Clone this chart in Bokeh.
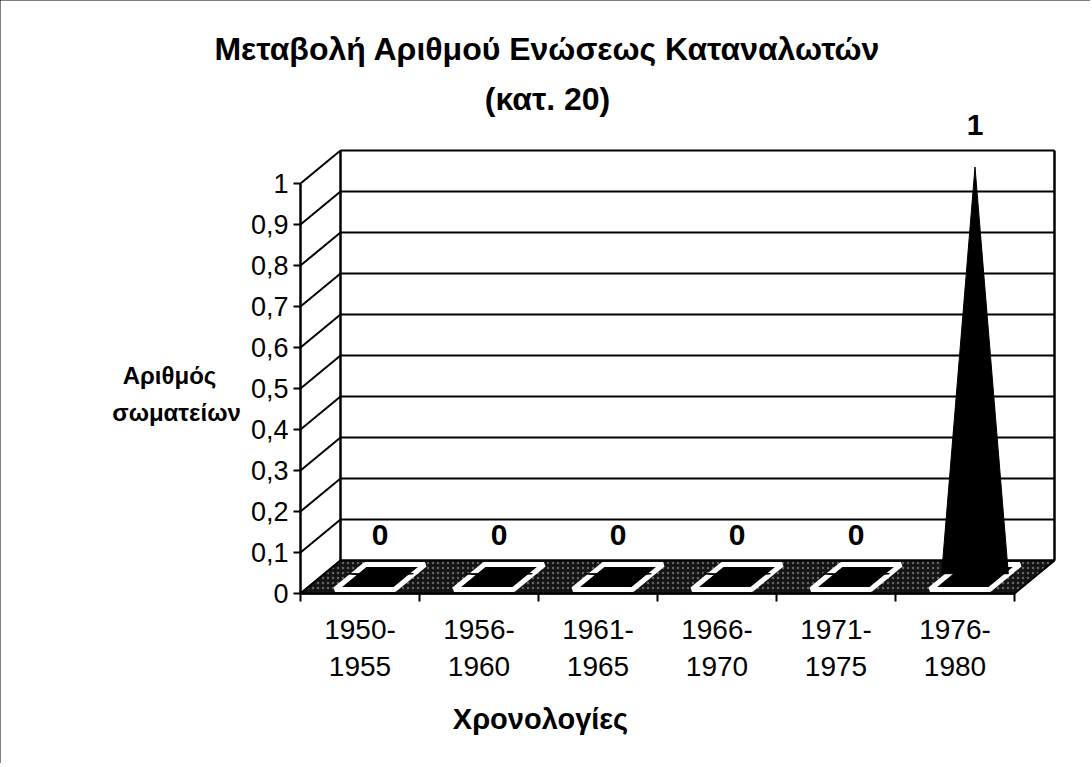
from bokeh.plotting import figure
from bokeh.models import FixedTicker, CustomJSTickFormatter, Label, Range1d
from bokeh.embed import file_html
from bokeh.resources import INLINE
from bokeh.core.properties import value

# ---- data ----
categories = ["1950-\n1955", "1956-\n1960", "1961-\n1965", "1966-\n1970", "1971-\n1975", "1976-\n1980"]
counts = [0, 0, 0, 0, 0, 1]
y_ticks = [0.0, 0.1, 0.2, 0.3, 0.4, 0.5, 0.6, 0.7, 0.8, 0.9, 1.0]
title_lines = ["Μεταβολή Αριθμού Ενώσεως Καταναλωτών", "(κατ. 20)"]
y_title_lines = ["Αριθμός", "σωματείων"]
x_title = "Χρονολογίες"

# ---- layout (frame covers the whole canvas; axes are fixed inside it) ----
W, H = 1090, 763
X0_PX, Y0_PX = 300, 593   # screen position of the chart origin (front-left, value 0)
PX_X = 119.0              # pixels per category
PX_Y = 410.0              # pixels per unit of value
DX = 40 / PX_X            # 3D depth offset (x)
DY = 33 / PX_Y            # 3D depth offset (y)
n = len(categories)
FONT = "Liberation Sans"

p = figure(width=W, height=H, output_backend="svg", toolbar_location=None,
           x_range=Range1d(-X0_PX / PX_X, (W - X0_PX) / PX_X),
           y_range=Range1d(-(H - Y0_PX) / PX_Y, Y0_PX / PX_Y),
           min_border=0, min_border_left=0, min_border_right=0,
           min_border_top=0, min_border_bottom=0)
p.title.visible = False
p.outline_line_color = None
p.xgrid.visible = False
p.ygrid.visible = False
p.background_fill_color = "white"
p.border_fill_color = "white"
p.styles = {"outline": "3px solid black", "outline-offset": "-3px"}


def sx(px):  # screen px -> data x (text placement only)
    return (px - X0_PX) / PX_X


def sy(py):
    return (Y0_PX - py) / PX_Y


# back wall gridlines
p.segment(x0=[DX] * len(y_ticks), y0=[t + DY for t in y_ticks],
          x1=[n + DX] * len(y_ticks), y1=[t + DY for t in y_ticks],
          line_color="black", line_width=2)
# side wall diagonals
p.segment(x0=[0] * len(y_ticks), y0=y_ticks,
          x1=[DX] * len(y_ticks), y1=[t + DY for t in y_ticks],
          line_color="black", line_width=2)
top = max(y_ticks)
# wall vertical edges and front axis line
p.segment(x0=[DX, n + DX, 0], y0=[DY, DY, 0], x1=[DX, n + DX, 0], y1=[top + DY, top + DY, top],
          line_color="black", line_width=2.5)

# floor
p.patch(x=[0, n, n + DX, DX], y=[0, 0, DY, DY], fill_color="#141414", line_color="black",
        line_width=2, hatch_pattern=".", hatch_color="#9a9a9a", hatch_alpha=0.6, hatch_scale=5)

# cone bases
bw = 0.25
f0, f1 = 0.12, 0.88
centers = [i + 0.5 for i in range(n)]
base_xs = [[c - bw + f0 * DX, c + bw + f0 * DX, c + bw + f1 * DX, c - bw + f1 * DX] for c in centers]
base_ys = [[f0 * DY, f0 * DY, f1 * DY, f1 * DY] for c in centers]
p.patches(xs=base_xs, ys=base_ys, fill_color="black", line_color="white", line_width=5)

# cones
cone_xs = [[c + 0.5 * DX - 0.28, c + 0.5 * DX, c + 0.5 * DX + 0.28] for c in centers]
cone_ys = [[0.6 * DY, v + 0.5 * DY, 0.6 * DY] for v in counts]
p.patches(xs=cone_xs, ys=cone_ys, fill_color="black", line_color="black", line_width=1)

# floor front edge (x axis line)
p.segment(x0=[0], y0=[0], x1=[n], y1=[0], line_color="black", line_width=2.5)

# data labels
p.text(x=[c + 0.5 * DX for c in centers], y=[v + 0.5 * DY for v in counts],
       text=[str(v) for v in counts], text_align="center", text_baseline="bottom",
       y_offset=-32, text_font=value(FONT), text_font_style="bold",
       text_font_size="30px", text_color="black")

# axes, pinned at the origin inside the frame
xa = p.xaxis[0]
xa.fixed_location = 0
xa.ticker = FixedTicker(ticks=centers, minor_ticks=list(range(n + 1)))
xa.major_label_overrides = {c: lab for c, lab in zip(centers, categories)}
xa.axis_line_color = None
xa.major_tick_line_color = None
xa.major_tick_out = 0
xa.minor_tick_line_color = "black"
xa.minor_tick_line_width = 2
xa.minor_tick_out = 8
xa.minor_tick_in = 0
xa.major_label_standoff = 12
xa.major_label_text_font = FONT
xa.major_label_text_font_size = "28px"
xa.major_label_text_color = "black"
xa.major_label_text_line_height = 1.22

ya = p.yaxis[0]
ya.fixed_location = 0
ya.ticker = FixedTicker(ticks=y_ticks, minor_ticks=[])
ya.formatter = CustomJSTickFormatter(code="const s = (Math.round(tick*10)/10).toString(); return s.replace('.', ',');")
ya.axis_line_color = None
ya.major_tick_line_color = "black"
ya.major_tick_line_width = 2
ya.major_tick_out = 7
ya.major_tick_in = 0
ya.major_label_standoff = 5
ya.major_label_text_font = FONT
ya.major_label_text_font_size = "27px"
ya.major_label_text_color = "black"


# titles
def add_label(text, px, py, size, align="center"):
    p.add_layout(Label(x=sx(px), y=sy(py), text=text, text_align=align, text_baseline="middle",
                       text_font=FONT, text_font_style="bold", text_font_size=size,
                       text_color="black"))


add_label(title_lines[0], 547, 48, "32px")
add_label(title_lines[1], 547, 98, "32px")
add_label(y_title_lines[0], 169, 375, "24px")
add_label(y_title_lines[1], 176, 412, "24px")
add_label(x_title, 540, 718, "29px")

open("out.html", "w").write(file_html(p, INLINE))
